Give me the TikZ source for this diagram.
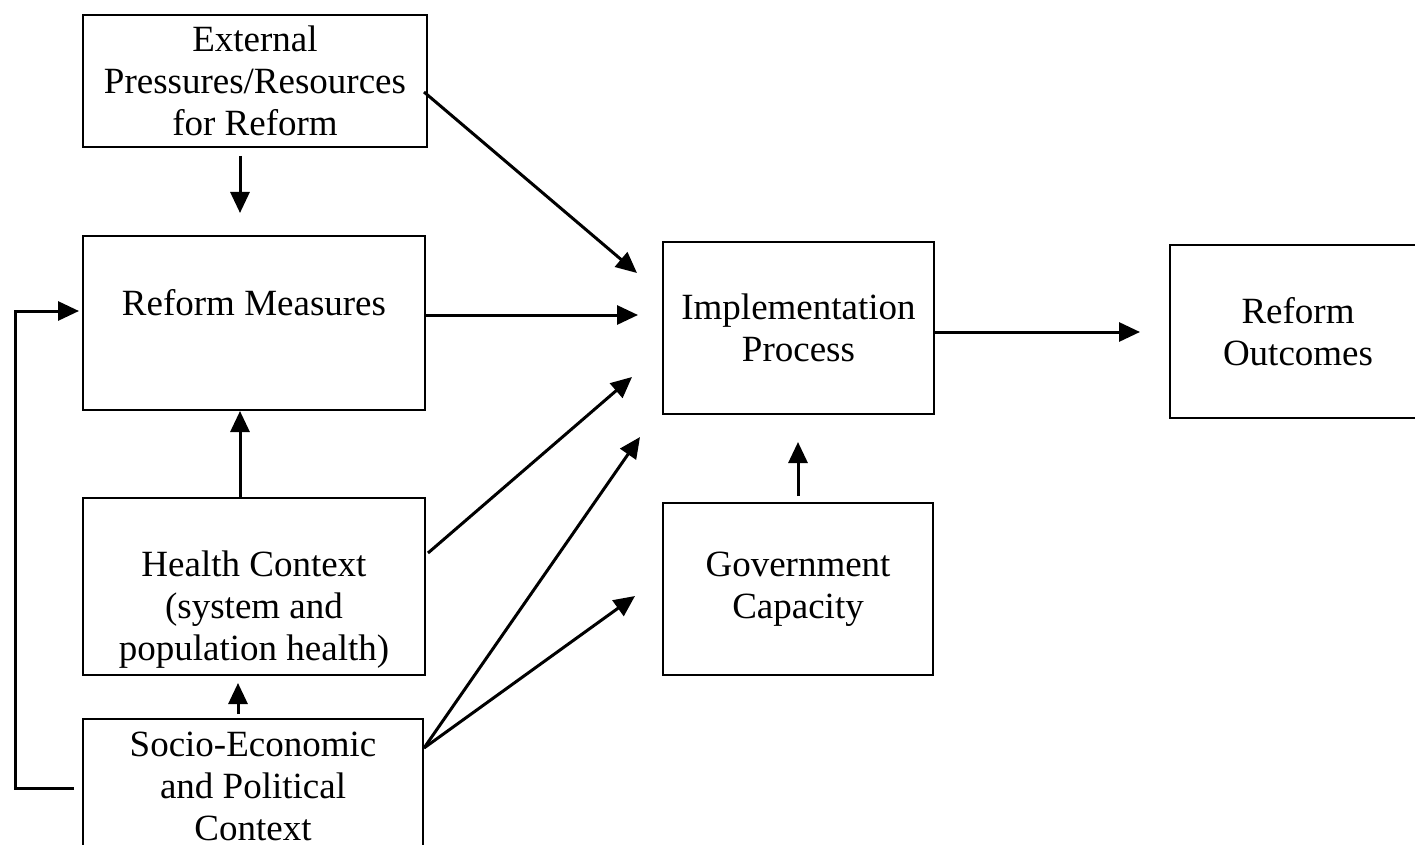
\documentclass[tikz,border=0pt]{standalone}
\usepackage{fontspec}
\setmainfont{Liberation Serif}
\usetikzlibrary{arrows.meta,calc}
\begin{document}
\begin{tikzpicture}[x=1pt,y=-1pt,
 box/.style={draw,line width=2pt,inner sep=0pt,align=center,font=\fontsize{37}{42}\selectfont},
 txt/.style={inner sep=0pt,align=center,font=\fontsize{37}{42}\selectfont},
 arr/.style={line width=3pt,-{Triangle[length=21pt,width=19pt]}},
 ln/.style={line width=3pt}]
\useasboundingbox (0,0) rectangle (1415,845);
\begin{scope}
\clip (0,0) rectangle (1415,845);
% boxes
\node[box,minimum width=344pt,minimum height=132pt] (ext) at (255,81) {External\\Pressures/Resources\\for Reform};
\node[box,minimum width=342pt,minimum height=174pt] (rm) at (254,323) {};
\node[txt] at (254,303) {Reform Measures};
\node[box,minimum width=342pt,minimum height=177pt] (hc) at (254,586.5) {};
\node[txt] at (254,610) {Health Context\\(system and\\population health)};
\node[box,minimum width=340pt,minimum height=134pt] (se) at (253,786) {Socio-Economic\\and Political\\Context};
\node[box,minimum width=271pt,minimum height=172pt] (impl) at (798.5,328) {Implementation\\Process};
\node[box,minimum width=270pt,minimum height=172pt] (gov) at (798,589) {Government\\Capacity};
\node[box,minimum width=256pt,minimum height=173pt] (out) at (1298,331.5) {Reform\\Outcomes};
% free arrow ends
\coordinate (a1) at (240,213);
\coordinate (i1) at (637,273);
\coordinate (i2) at (638,315);
\coordinate (i3) at (632,377);
\coordinate (i4) at (640,437);
\coordinate (g1) at (635,596);
\coordinate (h1) at (238,683);
\coordinate (i5) at (798,442);
\coordinate (o1) at (1140,332);
\coordinate (f1) at (15,788);
\coordinate (f2) at (15,311);
% connectors
\draw[arr] ([xshift=-15pt,yshift=-8pt]ext.south) -- (a1);
\draw[arr] ([xshift=-4pt,yshift=-11pt]ext.east) -- (i1);
\draw[arr] ([xshift=-2pt,yshift=8pt]rm.east) -- (i2);
\draw[arr] ([xshift=2pt,yshift=33.5pt]hc.east) -- (i3);
\draw[arr] ([yshift=38pt]se.east) -- (i4);
\draw[arr] ([yshift=38pt]se.east) -- (g1);
\draw[arr] ([xshift=-14pt]hc.north) -- ([xshift=-14pt]rm.south);
\draw[arr] ([xshift=-15pt,yshift=4pt]se.north) -- (h1);
\draw[arr] ([yshift=6pt]gov.north) -- (i5);
\draw[arr] ([yshift=-4pt]impl.east) -- (o1);
\draw[arr,line join=miter] ([xshift=-8pt,yshift=-2pt]se.west) -- (f1) -- (f2) -- ([xshift=-3pt,yshift=12pt]rm.west);
\end{scope}
\end{tikzpicture}
\end{document}
